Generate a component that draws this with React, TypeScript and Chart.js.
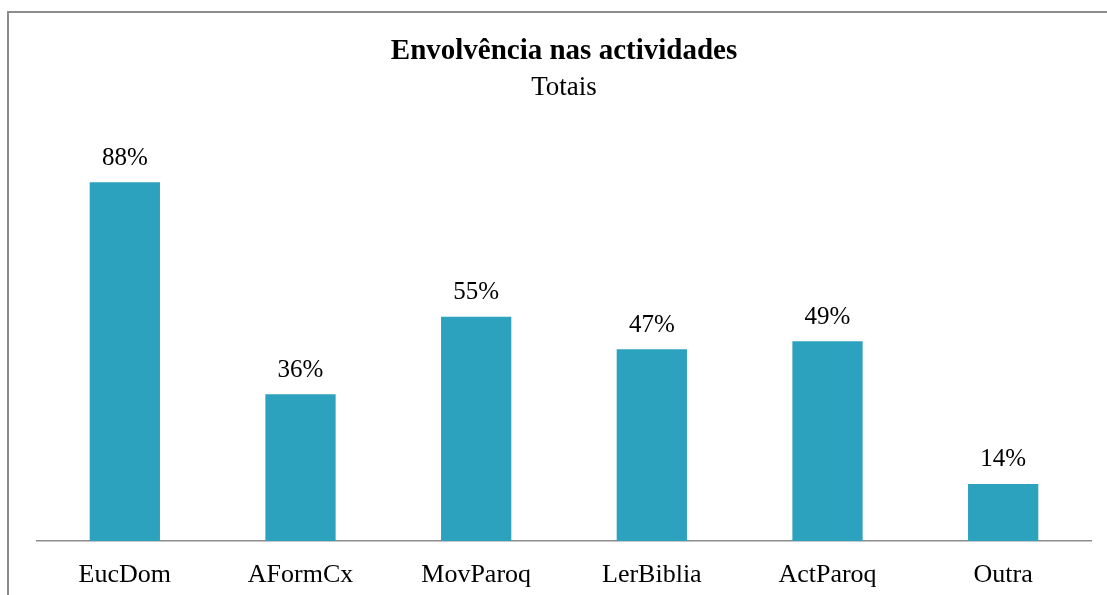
import React, { useEffect, useRef } from "react";
import { Chart, registerables } from "chart.js";

Chart.register(...registerables);

const categories = ["EucDom", "AFormCx", "MovParoq", "LerBiblia", "ActParoq", "Outra"];
const values = [88, 36, 55, 47, 49, 14];
const titleText = "Envolvência nas actividades";
const subtitleText = "Totais";

const FONT = "'Liberation Serif', 'Times New Roman', serif";

const frameAndLabels = {
  id: "frameAndLabels",
  beforeDraw(chart: any) {
    const ctx = chart.ctx;
    ctx.save();
    ctx.fillStyle = "#ffffff";
    ctx.fillRect(0, 0, chart.width, chart.height);
    ctx.fillStyle = "#8c8c8c";
    ctx.fillRect(7, 11, 2, chart.height - 11);
    ctx.fillRect(7, 11, chart.width - 7, 2);
    ctx.restore();
  },
  afterDatasetsDraw(chart: any) {
    const ctx = chart.ctx;
    const meta = chart.getDatasetMeta(0);
    ctx.save();
    ctx.font = `25px ${FONT}`;
    ctx.fillStyle = "#000000";
    ctx.textAlign = "center";
    ctx.textBaseline = "middle";
    meta.data.forEach((bar: any, i: number) => {
      ctx.fillText(`${values[i]}%`, bar.x, bar.y - 24);
    });
    ctx.restore();
  },
};

export default function App() {
  const ref = useRef<HTMLCanvasElement | null>(null);
  useEffect(() => {
    if (!ref.current) return;
    const chart = new Chart(ref.current, {
      type: "bar",
      data: {
        labels: categories,
        datasets: [
          {
            data: values,
            backgroundColor: "#2DA2BF",
            borderWidth: 0,
            barPercentage: 0.4,
            categoryPercentage: 1,
          },
        ],
      },
      options: {
        responsive: false,
        animation: false,
        devicePixelRatio: 1,
        layout: { padding: { left: 37, right: 16, top: 0, bottom: 0 } },
        plugins: {
          legend: { display: false },
          tooltip: { enabled: false },
          title: {
            display: true,
            text: titleText,
            color: "#000000",
            font: { family: FONT, size: 29, weight: "bold", lineHeight: 1.2 },
            padding: { top: 34, bottom: 3 },
          },
          subtitle: {
            display: true,
            text: subtitleText,
            color: "#000000",
            font: { family: FONT, size: 27, weight: "normal", lineHeight: 1.2 },
            padding: { top: 0, bottom: 29 },
          },
        },
        scales: {
          x: {
            grid: { display: false, drawTicks: false },
            border: { display: true, color: "#8c8c8c", width: 1.5 },
            ticks: {
              color: "#000000",
              font: { family: FONT, size: 26 },
              padding: 19,
              maxRotation: 0,
              autoSkip: false,
            },
            afterFit(scale: any) {
              scale.height = 54;
            },
          },
          y: {
            display: false,
            min: 0,
            max: 100,
          },
        },
      },
      plugins: [frameAndLabels],
    });
    return () => chart.destroy();
  }, []);
  return (
    <div style={{ position: "absolute", left: 0, top: 0, width: 1107, height: 595, overflow: "hidden" }}>
      <canvas ref={ref} width={1107} height={595} style={{ display: "block" }} />
    </div>
  );
}
